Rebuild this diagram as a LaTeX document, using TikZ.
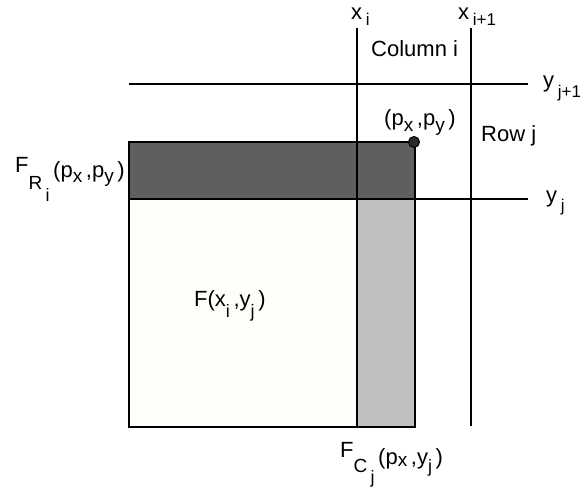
\documentclass[tikz,border=0pt]{standalone}
\usepackage{fontspec}
\setmainfont{Liberation Sans}
\newcommand\lowtxt[3]{\raisebox{-#1pt}{\fontsize{#2}{#2}\selectfont #3}}
\tikzset{
  px/.style={x=1pt,y=-1pt},
  gridline/.style={line width=1.4pt},
  box/.style={line width=1.4pt},
  lab/.style={inner sep=0pt,anchor=base west,font=\fontsize{22}{22}\selectfont},
}
\definecolor{darkfill}{HTML}{5F5F5F}
\definecolor{lightfill}{HTML}{C0C0C0}
\definecolor{dotfill}{HTML}{2A2A2A}
\definecolor{paper}{HTML}{FEFEFA}
\begin{document}
\begin{tikzpicture}[px]
\useasboundingbox (0,0) rectangle (582,489);
% coordinates
\coordinate (a) at (129,199);
\coordinate (b) at (357,427);
\coordinate (c) at (415,199);
\coordinate (d) at (129,142);
\coordinate (p) at (414,142);
% regions
\draw[box,fill=paper] (a) rectangle (b);
\draw[box,fill=lightfill] (357,199) rectangle (415,427);
\draw[box,fill=darkfill] (d) rectangle (c);
% grid lines
\coordinate (xit) at (357,28);
\coordinate (xib) at (357,427);
\coordinate (xjt) at (471,28);
\coordinate (xjb) at (471,426);
\coordinate (yjl) at (129,84);
\coordinate (yjr) at (528,84);
\coordinate (yl) at (415,199);
\coordinate (yr) at (528,199);
\draw[gridline] (xit) -- (xib);
\draw[gridline] (xjt) -- (xjb);
\draw[gridline] (yjl) -- (yjr);
\draw[gridline] (yl) -- (yr);
% point
\node[circle,draw,line width=1pt,fill=dotfill,minimum size=11pt,inner sep=0pt] (pt) at (p) {};
% labels
\node[lab] (lxi) at (351,20) {x\,\lowtxt{6}{17}{i}};
\node[lab] (lxj) at (458,20) {x\,\lowtxt{6}{17}{i+1}};
\node[lab] (lcol) at (371,57) {Column i};
\node[lab] (lyj1) at (543,88) {y\,\lowtxt{10}{17}{j+1}};
\node[lab] (lpt) at (384,126) {(p\lowtxt{6}{19}{x}\,,p\lowtxt{6}{19}{y}\,)};
\node[lab] (lrow) at (481,142) {Row j};
\node[lab] (lyj) at (546,203) {y\,\lowtxt{9}{17}{j}};
\node[lab] (lfr) at (15,173) {F\lowtxt{17}{19}{R\,\lowtxt{12}{18}{i}}\,\lowtxt{5}{22}{(p\lowtxt{5}{19}{x}\,,p\lowtxt{5}{19}{y}\,)}};
\node[lab] (lf) at (194,307) {F(x\lowtxt{11}{18}{i}\,,y\lowtxt{11}{18}{j}\,)};
\node[lab] (lfc) at (340,458) {F\lowtxt{15}{19}{C\,\lowtxt{11}{18}{j}}\,\lowtxt{7}{22}{(p\lowtxt{2}{19}{x}\,,y\lowtxt{8}{18}{j}\,)}};
\end{tikzpicture}
\end{document}
